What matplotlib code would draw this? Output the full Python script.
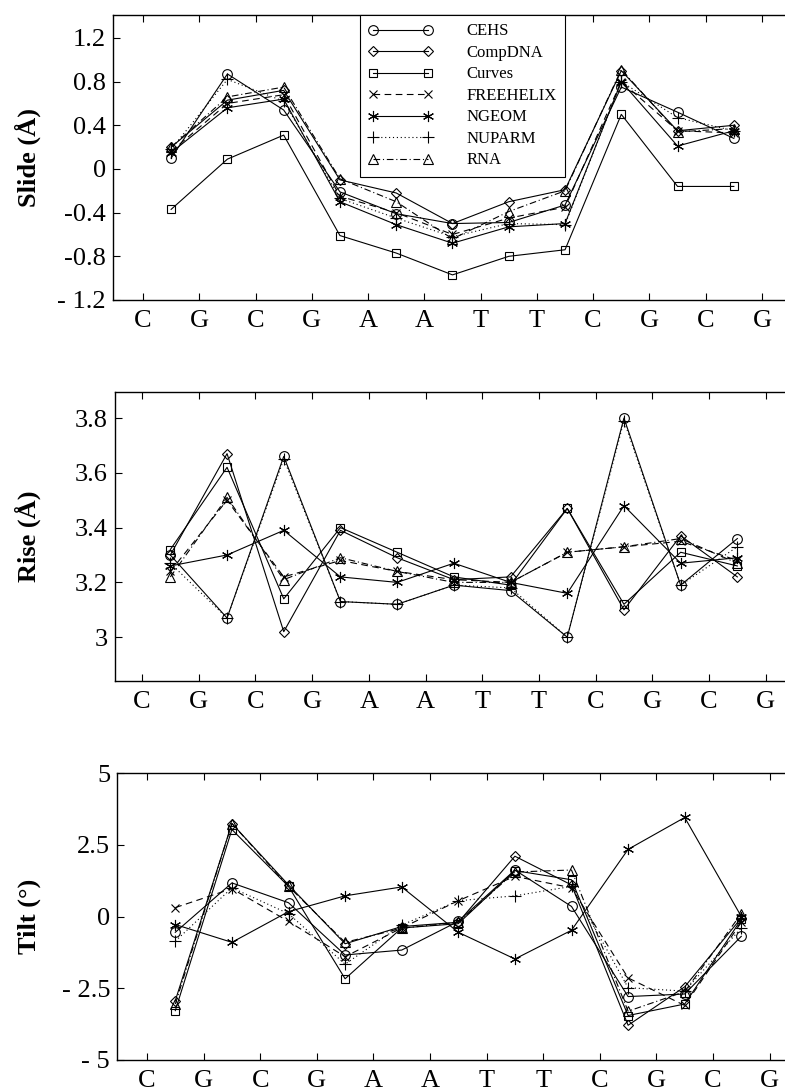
import matplotlib
matplotlib.use("Agg")
import matplotlib.pyplot as plt
import numpy as np

plt.rcParams["font.family"] = ["Liberation Serif", "DejaVu Serif"]

bases = ["C", "G", "C", "G", "A", "A", "T", "T", "C", "G", "C", "G"]
methods = ["CEHS", "CompDNA", "Curves", "FREEHELIX", "NGEOM", "NUPARM", "RNA"]

# values per base-pair step (CG, GC, CG, GA, AA, AT, TT, TC, CG, GC, CG)
slide = {
    "CEHS":      [0.10, 0.87, 0.54, -0.21, -0.41, -0.50, -0.49, -0.33, 0.75, 0.52, 0.28],
    "CompDNA":   [0.20, 0.63, 0.72, -0.10, -0.22, -0.50, -0.30, -0.19, 0.90, 0.35, 0.40],
    "Curves":    [-0.37, 0.09, 0.31, -0.61, -0.77, -0.97, -0.80, -0.74, 0.50, -0.16, -0.16],
    "FREEHELIX": [0.16, 0.60, 0.68, -0.25, -0.40, -0.60, -0.45, -0.35, 0.80, 0.35, 0.33],
    "NGEOM":     [0.15, 0.56, 0.64, -0.30, -0.51, -0.68, -0.53, -0.50, 0.80, 0.21, 0.35],
    "NUPARM":    [0.18, 0.82, 0.62, -0.27, -0.45, -0.62, -0.50, -0.51, 0.80, 0.47, 0.35],
    "RNA":       [0.20, 0.66, 0.75, -0.09, -0.30, -0.64, -0.39, -0.20, 0.91, 0.34, 0.37],
}
rise = {
    "CEHS":      [3.30, 3.07, 3.66, 3.13, 3.12, 3.19, 3.17, 3.00, 3.80, 3.19, 3.36],
    "CompDNA":   [3.30, 3.67, 3.02, 3.39, 3.29, 3.21, 3.22, 3.47, 3.10, 3.37, 3.22],
    "Curves":    [3.32, 3.62, 3.14, 3.40, 3.31, 3.22, 3.19, 3.47, 3.12, 3.31, 3.26],
    "FREEHELIX": [3.24, 3.50, 3.22, 3.28, 3.24, 3.21, 3.20, 3.31, 3.33, 3.35, 3.28],
    "NGEOM":     [3.26, 3.30, 3.39, 3.22, 3.20, 3.27, 3.20, 3.16, 3.48, 3.27, 3.29],
    "NUPARM":    [3.27, 3.07, 3.65, 3.13, 3.12, 3.19, 3.18, 3.00, 3.79, 3.19, 3.33],
    "RNA":       [3.22, 3.51, 3.21, 3.29, 3.24, 3.20, 3.20, 3.31, 3.33, 3.36, 3.27],
}
tilt = {
    "CEHS":      [-0.55, 1.17, 0.48, -1.34, -1.17, -0.17, 1.62, 0.35, -2.79, -2.70, -0.69],
    "CompDNA":   [-2.93, 3.24, 1.10, -0.95, -0.35, -0.20, 2.10, 1.10, -3.79, -2.45, -0.05],
    "Curves":    [-3.28, 3.03, 1.05, -2.17, -0.40, -0.25, 1.60, 1.28, -3.45, -3.05, -0.10],
    "FREEHELIX": [0.31, 0.97, -0.17, -1.40, -0.40, 0.55, 1.40, 1.00, -2.14, -3.10, -0.20],
    "NGEOM":     [-0.28, -0.90, 0.17, 0.72, 1.03, -0.55, -1.48, -0.48, 2.34, 3.45, 0.00],
    "NUPARM":    [-0.86, 1.00, 0.10, -1.66, -0.30, 0.55, 0.72, 1.05, -2.48, -2.60, -0.40],
    "RNA":       [-3.05, 3.24, 1.05, -0.90, -0.41, -0.20, 1.55, 1.62, -3.30, -2.62, 0.10],
}

slide_ticks = [-1.2, -0.8, -0.4, 0, 0.4, 0.8, 1.2]
slide_labels = ["- 1.2", "-0.8", "-0.4", "0", "0.4", "0.8", "1.2"]
rise_ticks = [3.0, 3.2, 3.4, 3.6, 3.8]
rise_labels = ["3", "3.2", "3.4", "3.6", "3.8"]
tilt_ticks = [-5, -2.5, 0, 2.5, 5]
tilt_labels = ["- 5", "- 2.5", "0", "2.5", "5"]

style = {
    "CEHS":      dict(marker="o", ls="-"),
    "CompDNA":   dict(marker="D", ls="-"),
    "Curves":    dict(marker="s", ls="-"),
    "FREEHELIX": dict(marker="x", ls=(0, (6, 4))),
    "NGEOM":     dict(marker=(6, 2, 0), ls="-"),
    "NUPARM":    dict(marker="+", ls=(0, (1, 2.5))),
    "RNA":       dict(marker="^", ls=(0, (6, 2.5, 1, 2.5))),
}
msize = {"o": 7, "D": 5.5, "s": 6, "x": 6, "+": 8, "^": 7.5}

W, H = 785, 1092
fig = plt.figure(figsize=(W / 100, H / 100), dpi=100)

# panel geometry in pixels: left, top, bottom, first-base pixel, base spacing
panels = [
    (113, 15, 300, 143, 56.27),
    (115, 392, 681, 142, 56.7),
    (117, 773, 1060, 147, 56.6),
]
datasets = [
    (slide, "Slide (Å)", (-1.2, 1.41), slide_ticks, slide_labels),
    (rise, "Rise (Å)", (2.84, 3.895), rise_ticks, rise_labels),
    (tilt, "Tilt (°)", (-5, 5), tilt_ticks, tilt_labels),
]

xb = np.arange(1, len(bases) + 1)
xs = np.arange(1.5, len(bases), 1.0)

for (left, top, bot, b1, sp), (data, ylab, ylim, yt, ytl) in zip(panels, datasets):
    ax = fig.add_axes([left / W, 1 - bot / H, (W - left) / W, (bot - top) / H])
    for m in methods:
        st = style[m]
        mk = st["marker"]
        ax.plot(xs, data[m], color="black", lw=0.8, ls=st["ls"], marker=mk,
                ms=msize.get(mk, 8) if not isinstance(mk, tuple) else 8,
                mfc="none", mec="black", mew=0.8, label=m)
    ax.set_xlim(1 - (b1 - left) / sp, 1 + (W - b1) / sp)
    ax.set_ylim(*ylim)
    ax.set_xticks(xb)
    ax.set_xticklabels(bases)
    ax.set_yticks(yt)
    ax.set_yticklabels(ytl)
    ax.tick_params(axis="x", direction="in", top=True, length=5, width=0.8,
                   labelsize=19, pad=7)
    ax.tick_params(axis="y", direction="in", right=False, length=5, width=0.8,
                   labelsize=19, pad=5)
    ax.spines["right"].set_visible(False)
    for s in ("left", "top", "bottom"):
        ax.spines[s].set_linewidth(1.0)
    ax.set_ylabel(ylab, fontsize=19, fontweight="bold")
    ax.yaxis.set_label_coords((41 - left) / (W - left), 0.5)
    if data is slide:
        leg = ax.legend(loc="upper left", bbox_to_anchor=((360 - left) / (W - left), 1.0),
                        borderaxespad=0, fontsize=12, numpoints=2, handlelength=3.9,
                        handletextpad=2.0, labelspacing=0.33, borderpad=0.5,
                        fancybox=False, framealpha=1, edgecolor="black")
        leg.get_frame().set_linewidth(0.8)

fig.savefig("out.png", dpi=100)
